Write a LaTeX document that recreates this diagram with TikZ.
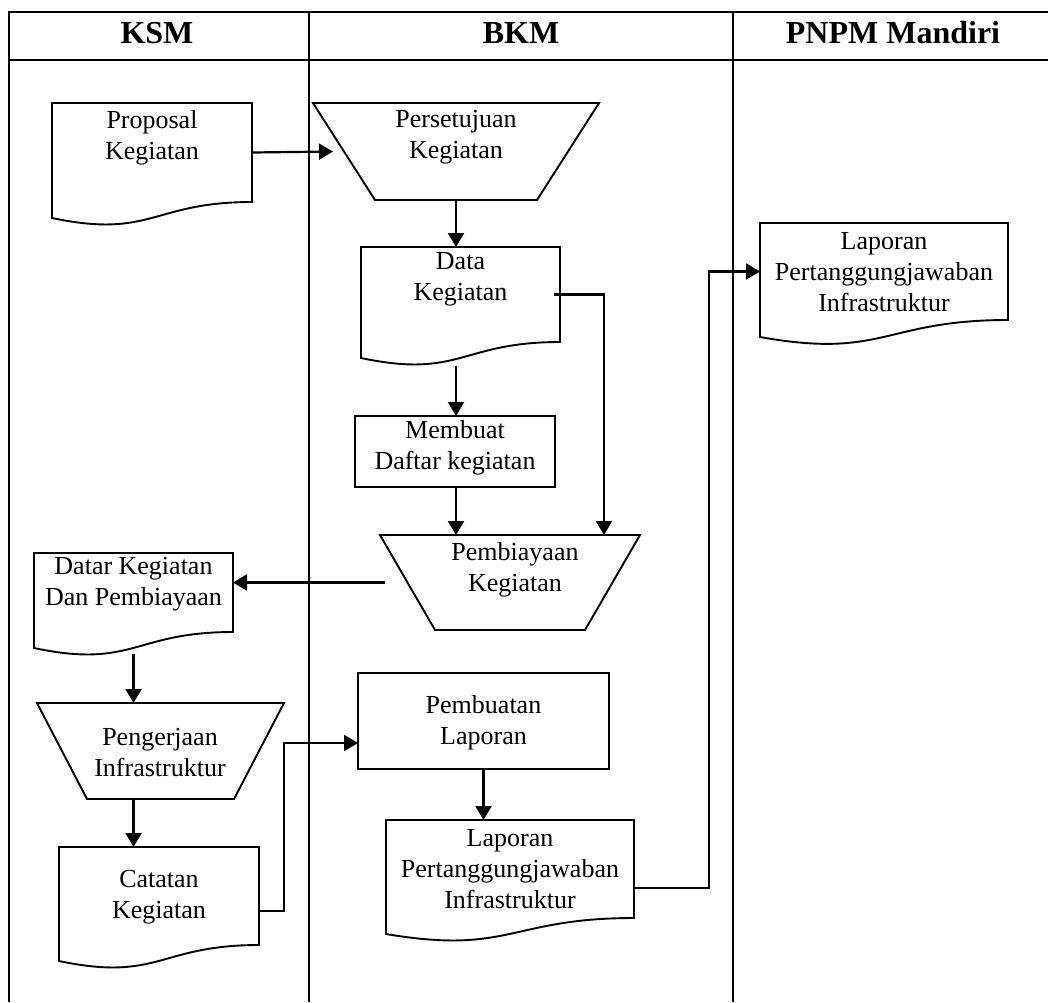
\documentclass[tikz,border=0pt]{standalone}
\usepackage{fontspec}
\setmainfont{Liberation Serif}
\usetikzlibrary{arrows.meta,calc}
\tikzset{
  grid/.style={line width=2.6pt},
  box/.style={inner sep=0pt, outer sep=0pt},
  shp/.style={line width=1.9pt, line join=miter},
  txt/.style={align=center, font=\fontsize{26}{31}\selectfont, inner sep=0pt},
  hdr/.style={font=\fontsize{32}{36}\selectfont\bfseries, inner sep=0pt},
  arr/.style={line width=2.2pt, -{Triangle[length=14pt,width=16pt]}},
}
\newcommand\docdraw[2]{\draw[shp] (#1.north west) -- (#1.north east) -- (#1.south east) .. controls (#1.south) and ($(#1.south)+(0,{2.314*#2})$) .. ($(#1.south west)+(0,#2)$) -- cycle;}
\newcommand\trapdraw[2]{\draw[shp] (#1.north west) -- (#1.north east) -- ($(#1.south east)+(-#2,0)$) -- ($(#1.south west)+(#2,0)$) -- cycle;}
\begin{document}
\begin{tikzpicture}[x=1pt,y=-1pt]
\fill[white] (0,0) rectangle (1048,1002);
\useasboundingbox (0,0) rectangle (1048,1002);
% table
\draw[grid] (9,1002) -- (9,12) -- (1048,12);
\draw[grid] (9,60) -- (1048,60);
\draw[grid] (309,12) -- (309,1002);
\draw[grid] (733,12) -- (733,1002);
\node[hdr] (hK) at (157,33) {KSM};
\node[hdr] (hB) at (521,33) {BKM};
\node[hdr] (hP) at (893,33) {PNPM Mandiri};
% shape frames
\node[box, minimum width=200pt, minimum height=99pt] (prop) at (152,152.5) {};
\node[box, minimum width=199pt, minimum height=95pt] (data) at (460.5,294.5) {};
\node[box, minimum width=199pt, minimum height=79pt] (datar) at (133.5,592.5) {};
\node[box, minimum width=200pt, minimum height=98pt] (cat) at (159,896) {};
\node[box, minimum width=248pt, minimum height=98pt] (lapB) at (510,869) {};
\node[box, minimum width=248pt, minimum height=97pt] (lapP) at (884,271.5) {};
\node[box, minimum width=286pt, minimum height=97pt] (pers) at (456,151.5) {};
\node[box, minimum width=260pt, minimum height=95pt] (pemb) at (510,582.5) {};
\node[box, minimum width=247pt, minimum height=96pt] (peng) at (160.5,751) {};
\node[box, draw, line width=1.9pt, minimum width=200pt, minimum height=71pt] (memb) at (455,451.5) {};
\node[box, draw, line width=1.9pt, minimum width=251pt, minimum height=96pt] (pbt) at (483.5,721) {};
\docdraw{prop}{16}
\docdraw{data}{16}
\docdraw{datar}{16}
\docdraw{cat}{16}
\docdraw{lapB}{16}
\docdraw{lapP}{17}
\trapdraw{pers}{62}
\trapdraw{pemb}{55}
\trapdraw{peng}{50}
% texts
\node[txt] (propT) at (152,137.5) {Proposal\\Kegiatan};
\node[txt] (persT) at (456,137) {Persetujuan\\Kegiatan};
\node[txt] (dataT) at (460.5,279) {Data\\Kegiatan};
\node[txt] (membT) at (455,448) {Membuat\\Daftar kegiatan};
\node[txt] (pembT) at (515,570) {Pembiayaan\\Kegiatan};
\node[txt] (datarT) at (133.5,584) {Datar Kegiatan\\Dan Pembiayaan};
\node[txt] (pengT) at (160,752.5) {Pengerjaan\\Infrastruktur};
\node[txt] (catT) at (159,897) {Catatan\\Kegiatan};
\node[txt] (pbtT) at (483.5,722.5) {Pembuatan\\Laporan};
\node[txt] (lapBT) at (510,869) {Laporan\\Pertanggungjawaban\\Infrastruktur};
\node[txt] (lapPT) at (884,272.5) {Laporan\\Pertanggungjawaban\\Infrastruktur};
% connectors
\draw[arr] (prop.east) -- ($(pers.west)+(20,0)$);
\draw[arr] (pers.south) -- (pers.south |- data.north);
\draw[arr] ($(pers.south |- data.south)+(0,24)$) -- (pers.south |- memb.north);
\draw[arr] (pers.south |- memb.south) -- (pers.south |- pemb.north);
\draw[arr] ($(data.east)+(-6,0)$) -| ($(pemb.north)+(94,0)$);
\draw[arr] ($(pemb.west)+(5,0)$) -- (datar.east |- pemb.west);
\draw[arr] ($(datar.south)+(0,22)$) -- (datar.south |- peng.north);
\draw[arr] (datar.south |- peng.south) -- (datar.south |- cat.north);
\draw[arr] ($(cat.east)+(0,15)$) -- ++(25,0) |- ($(pbt.west)+(0,22)$);
\draw[arr] (pbt.south) -- (pbt.south |- lapB.north);
\draw[arr] ($(lapB.east)+(0,19)$) -- ++(75,0) |- (lapP.west);
\end{tikzpicture}
\end{document}
